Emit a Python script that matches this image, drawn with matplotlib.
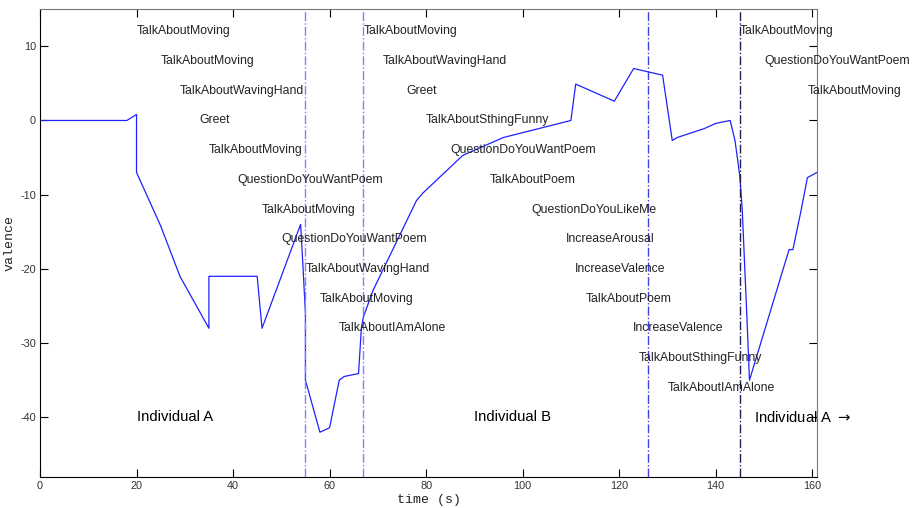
import matplotlib
matplotlib.use("Agg")
import matplotlib.pyplot as plt

plt.rcParams['axes.unicode_minus'] = False

# valence curve
t = [0, 18, 20, 20, 25, 29, 35, 35, 45, 46, 54, 54.5, 55, 55, 58, 60, 62, 63, 66, 66.6, 67,
     69, 78, 79.3, 87.6, 96, 110, 111, 119, 123, 129, 131, 132, 137.6, 140, 143, 144,
     145, 145.5, 146.5, 147, 155.2, 156, 157.7, 159, 161]
valence = [0, 0, 0.8, -7, -14.2, -21, -28, -21, -21, -28, -14, -19.8, -26, -35, -42, -41.4,
           -35, -34.5, -34.1, -27.9, -26.5, -22.9, -10.8, -9.8, -4.7, -2.3, 0, 4.9, 2.6, 7.0,
           6.1, -2.7, -2.3, -1.1, -0.4, 0, -2.7, -7.5, -12, -27, -35, -17.4, -17.4, -12.1,
           -7.7, -7]

# switch points between individuals
switch_t = [55, 67, 126, 145]
switch_col = ['#8080ff', '#8080ff', '#4040e0', '#202050']

# behaviour labels: (start time, row value, text)
labels_t = [20, 25, 29, 33, 35, 41, 46, 50, 55, 58, 62,
            67, 71, 76, 80, 85, 93.2, 101.9, 109, 110.8, 113, 122.8, 124, 130,
            145, 150, 159]
labels_y = [12, 8, 4, 0, -4, -8, -12, -16, -20, -24, -28,
            12, 8, 4, 0, -4, -8, -12, -16, -20, -24, -28, -32, -36,
            12, 8, 4]
labels_txt = ['TalkAboutMoving', 'TalkAboutMoving', 'TalkAboutWavingHand', 'Greet',
              'TalkAboutMoving', 'QuestionDoYouWantPoem', 'TalkAboutMoving',
              'QuestionDoYouWantPoem', 'TalkAboutWavingHand', 'TalkAboutMoving',
              'TalkAboutIAmAlone',
              'TalkAboutMoving', 'TalkAboutWavingHand', 'Greet', 'TalkAboutSthingFunny',
              'QuestionDoYouWantPoem', 'TalkAboutPoem', 'QuestionDoYouLikeMe',
              'IncreaseArousal', 'IncreaseValence', 'TalkAboutPoem', 'IncreaseValence',
              'TalkAboutSthingFunny', 'TalkAboutIAmAlone',
              'TalkAboutMoving', 'QuestionDoYouWantPoem', 'TalkAboutMoving']

who_t = [20, 90, 148]
who_txt = ['Individual A', 'Individual B', 'Individual A $\\rightarrow$']

fig = plt.figure(figsize=(9.17, 5.08), dpi=100)
ax = fig.add_axes([0.0436, 0.0616, 0.8474, 0.9204])

ax.plot(t, valence, color='#2020ff', lw=0.9)
for x, c in zip(switch_t, switch_col):
    ax.axvline(x, color=c, ls='-.', lw=1)

for x, y, s in zip(labels_t, labels_y, labels_txt):
    ax.text(x, y, s, ha='left', va='center', fontsize=8.8, color='#222222',
            family='Liberation Sans', clip_on=False)
for x, s in zip(who_t, who_txt):
    ax.text(x, -40, s, ha='left', va='center', fontsize=10.7, color='black',
            family='Liberation Sans')

ax.set_xlim(0, 161)
ax.set_ylim(-48, 15)
ax.set_xticks(range(0, 161, 20))
ax.set_yticks(range(-40, 11, 10))
ax.tick_params(direction='in', length=5.5, top=True, right=True, labelsize=7.8,
               labelcolor='#333333', pad=3)
for lab in ax.get_xticklabels() + ax.get_yticklabels():
    lab.set_family('Liberation Sans')
for side in ['top', 'right']:
    ax.spines[side].set_color('#777777')
ax.set_xlabel('time (s)', family='Liberation Mono', fontsize=9.5, color='#222222')
ax.set_ylabel('valence', family='Liberation Mono', fontsize=9.5, color='#222222')
ax.xaxis.set_label_coords(0.5, -0.036)
ax.yaxis.set_label_coords(-0.032, 0.5)

fig.savefig('out.png', dpi=100)
